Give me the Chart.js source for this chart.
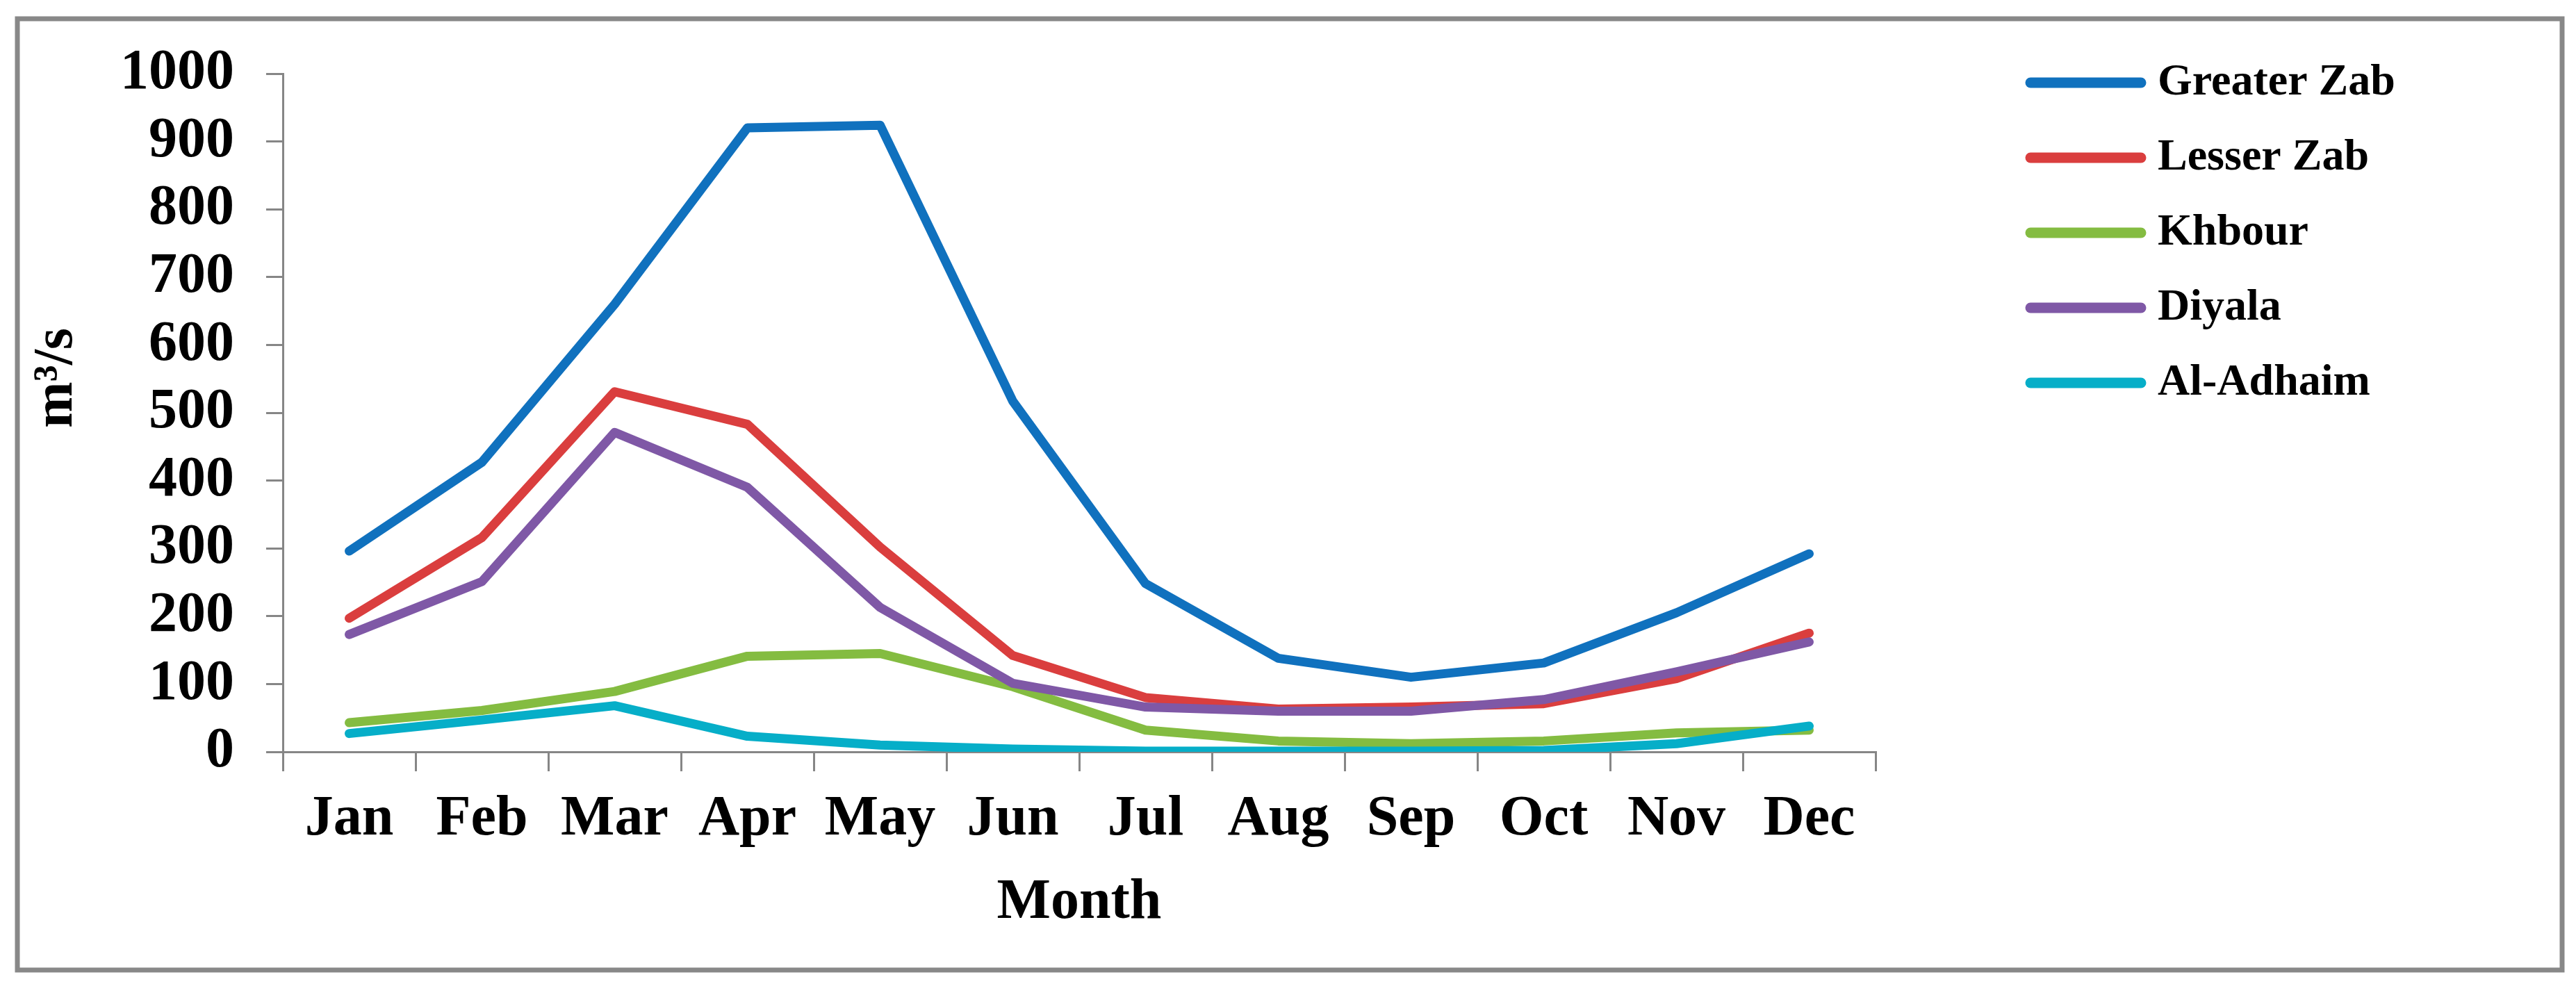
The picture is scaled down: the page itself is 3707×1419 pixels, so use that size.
<!DOCTYPE html>
<html>
<head>
<meta charset="utf-8">
<script src="https://cdn.jsdelivr.net/npm/chart.js@4.4.0/dist/chart.umd.min.js"></script>
<style>
  html, body { margin: 0; padding: 0; background: #ffffff; }
  #wrap { position: absolute; left: 0; top: 0; width: 3707px; height: 1419px; }
</style>
</head>
<body>
<div id="wrap"><canvas id="c" width="3707" height="1419"></canvas></div>
<script>
const months = ['Jan', 'Feb', 'Mar', 'Apr', 'May', 'Jun', 'Jul', 'Aug', 'Sep', 'Oct', 'Nov', 'Dec'];
const seriesNames = ['Greater Zab', 'Lesser Zab', 'Khbour', 'Diyala', 'Al-Adhaim'];
const greaterZab = [296, 427, 660, 920, 924, 517, 248, 138, 110, 131, 205, 292];
const lesserZab  = [197, 316, 531, 483, 302, 142, 80, 63, 66, 71, 108, 175];
const khbour     = [43, 61, 89, 141, 145, 96, 32, 16, 12, 16, 28, 32];
const diyala     = [173, 251, 471, 390, 213, 101, 66, 60, 60, 77, 118, 162];
const alAdhaim   = [27, 47, 68, 23, 10, 4, 1, 1, 1, 2, 12, 38];
const yTicks = [0, 100, 200, 300, 400, 500, 600, 700, 800, 900, 1000];
const xTitle = 'Month';
const yTitle = 'm\u00B3/s';

const colors = ['#1071BE', '#DA3E3E', '#84BC41', '#7F58A6', '#06AEC8'];
const FONT = '"Liberation Serif", "Times New Roman", serif';
const AXIS = '#868686';

const values = [greaterZab, lesserZab, khbour, diyala, alAdhaim];
const datasets = values.map((v, i) => ({
  label: seriesNames[i],
  data: v,
  borderColor: colors[i],
  backgroundColor: colors[i],
  borderWidth: 13,
  pointRadius: 0,
  pointHoverRadius: 0,
  tension: 0,
  fill: false,
  borderCapStyle: 'round',
  borderJoinStyle: 'round',
  order: values.length - i
}));

const frame = {
  id: 'frame',
  beforeDraw(chart) {
    const ctx = chart.ctx;
    ctx.save();
    ctx.fillStyle = '#ffffff';
    ctx.fillRect(0, 0, chart.width, chart.height);
    ctx.strokeStyle = '#888888';
    ctx.lineWidth = 7;
    ctx.strokeRect(25, 27, 3662, 1369);
    ctx.restore();
  }
};

const legendPlugin = {
  id: 'customLegend',
  afterDraw(chart) {
    const ctx = chart.ctx;
    ctx.save();
    const x0 = 2915, x1 = 3088, tx = 3105, y0 = 119, dy = 108;
    chart.data.datasets.forEach((ds, i) => {
      const y = y0 + i * dy;
      ctx.strokeStyle = ds.borderColor;
      ctx.lineWidth = 15;
      ctx.lineCap = 'round';
      ctx.beginPath();
      ctx.moveTo(x0 + 7, y);
      ctx.lineTo(x1 - 7, y);
      ctx.stroke();
      ctx.fillStyle = '#000000';
      ctx.font = 'bold 64px ' + FONT;
      ctx.textBaseline = 'middle';
      ctx.textAlign = 'left';
      ctx.fillText(ds.label, tx, y);
    });
    ctx.restore();
  }
};

new Chart(document.getElementById('c'), {
  type: 'line',
  data: { labels: months, datasets: datasets },
  plugins: [frame, legendPlugin],
  options: {
    responsive: false,
    animation: false,
    events: [],
    layout: { padding: { left: 0, top: 106, right: 1008, bottom: 0 } },
    plugins: {
      legend: { display: false },
      tooltip: { enabled: false },
      title: { display: false }
    },
    scales: {
      x: {
        type: 'category',
        offset: true,
        afterFit: (s) => { s.height = 337; },
        grid: {
          display: true,
          offset: true,
          drawOnChartArea: false,
          drawTicks: true,
          tickLength: 28,
          color: AXIS,
          lineWidth: 3
        },
        border: { display: true, color: AXIS, width: 3 },
        ticks: {
          color: '#000000',
          padding: 21,
          maxRotation: 0,
          autoSkip: false,
          font: { family: FONT, size: 82, weight: 'bold' }
        },
        title: {
          display: true,
          text: xTitle,
          color: '#000000',
          font: { family: FONT, size: 82, weight: 'bold' },
          padding: { top: 0, bottom: 70 }
        }
      },
      y: {
        min: 0,
        max: 1000,
        afterFit: (s) => { s.width = 407; },
        afterBuildTicks: (s) => { s.ticks = yTicks.map(v => ({ value: v })); },
        grid: {
          display: true,
          drawOnChartArea: false,
          drawTicks: true,
          tickLength: 24,
          color: AXIS,
          lineWidth: 3
        },
        border: { display: true, color: AXIS, width: 3 },
        ticks: {
          color: '#000000',
          padding: 46,
          autoSkip: false,
          stepSize: 100,
          callback: (v) => String(v),
          font: { family: FONT, size: 82, weight: 'bold' }
        },
        title: {
          display: true,
          text: '     ' + yTitle,
          color: '#000000',
          font: { family: FONT, size: 80, weight: 'bold' },
          padding: { top: 34, bottom: 0 }
        }
      }
    }
  }
});
</script>
</body>
</html>
